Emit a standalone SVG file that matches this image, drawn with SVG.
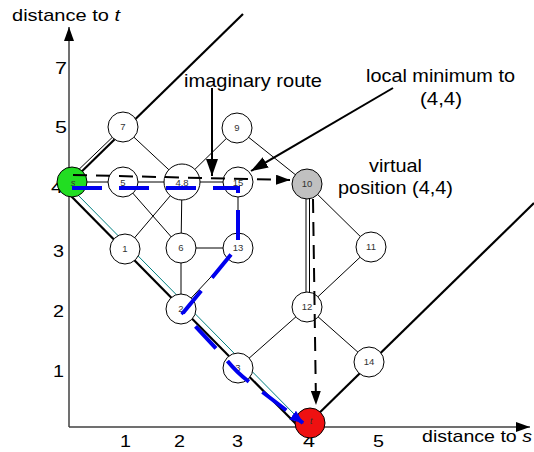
<svg xmlns="http://www.w3.org/2000/svg" width="534" height="452" viewBox="0 0 534 452">
<defs>
<style>
text{font-family:"Liberation Sans",Arial,sans-serif;}
.lbl{font-size:19px;fill:#000;}
.ax{font-size:17px;fill:#000;}
.tick{font-size:17px;fill:#000;}
.nl{font-size:9.5px;fill:#333;text-anchor:middle;}
.node{fill:#fff;stroke:#000;stroke-width:1;}
.edge{stroke:#000;stroke-width:1;fill:none;}
.thick{stroke:#000;stroke-width:2.2;fill:none;}
.axis{stroke:#404040;stroke-width:1.5;fill:none;}
</style>
<marker id="axArrow" markerUnits="userSpaceOnUse" markerWidth="14" markerHeight="10" viewBox="0 0 14 10" refX="14" refY="5" orient="auto"><path d="M0,0 L14,5 L0,10 z" fill="#000"/></marker>
<marker id="bigArrow" markerUnits="userSpaceOnUse" markerWidth="17" markerHeight="12" viewBox="0 0 17 12" refX="17" refY="6" orient="auto"><path d="M0,0 L17,6 L0,12 z" fill="#000"/></marker>
<marker id="dArrow" markerUnits="userSpaceOnUse" markerWidth="14" markerHeight="10" viewBox="0 0 14 10" refX="14" refY="5" orient="auto"><path d="M0,0 L14,5 L0,10 z" fill="#000"/></marker>
<marker id="bArrow" markerUnits="userSpaceOnUse" markerWidth="14" markerHeight="11" viewBox="0 0 14 11" refX="13" refY="5.5" orient="auto"><path d="M0,0 L14,5.5 L0,11 z" fill="#0000ee"/></marker>
</defs>

<g id="axes">
<line class="axis" x1="69" y1="427" x2="69" y2="27" marker-end="url(#axArrow)"/>
<line class="axis" x1="69" y1="427" x2="530" y2="427" marker-end="url(#axArrow)"/>
<text class="ax" x="12" y="21" textLength="108" lengthAdjust="spacingAndGlyphs">distance to <tspan font-style="italic">t</tspan></text>
<text class="ax" x="422" y="442" textLength="110" lengthAdjust="spacingAndGlyphs">distance to <tspan font-style="italic">s</tspan></text>
<g class="tick">
<text x="55" y="74" textLength="12" lengthAdjust="spacingAndGlyphs">7</text>
<text x="55" y="133" textLength="12" lengthAdjust="spacingAndGlyphs">5</text>
<text x="51" y="193" textLength="12" lengthAdjust="spacingAndGlyphs">4</text>
<text x="53" y="257" textLength="11" lengthAdjust="spacingAndGlyphs">3</text>
<text x="53" y="317" textLength="11" lengthAdjust="spacingAndGlyphs">2</text>
<text x="53" y="377" textLength="11" lengthAdjust="spacingAndGlyphs">1</text>
<text x="120" y="447" textLength="11" lengthAdjust="spacingAndGlyphs">1</text>
<text x="174" y="447" textLength="11" lengthAdjust="spacingAndGlyphs">2</text>
<text x="232" y="447" textLength="11" lengthAdjust="spacingAndGlyphs">3</text>
<text x="303" y="447" textLength="12" lengthAdjust="spacingAndGlyphs">4</text>
<text x="373" y="447" textLength="11" lengthAdjust="spacingAndGlyphs">5</text>
</g>
</g>

<g id="connectors">
<line class="thick" x1="73" y1="180" x2="243" y2="14"/>
<line class="edge" x1="71" y1="177" x2="121" y2="129"/>
<line class="thick" x1="70" y1="195" x2="297" y2="425"/>
<line stroke="#008080" stroke-width="1" x1="76" y1="193" x2="300" y2="420"/>
<line class="thick" x1="310" y1="422" x2="534" y2="203"/>
<line class="edge" x1="73" y1="182" x2="182" y2="182"/>
<line class="edge" x1="182" y1="182" x2="238" y2="182"/>
<line class="edge" x1="123" y1="127" x2="182" y2="182"/>
<line class="edge" x1="237" y1="128" x2="182" y2="182"/>
<line class="edge" x1="237" y1="128" x2="307" y2="184"/>
<line class="edge" x1="123" y1="182" x2="181" y2="248"/>
<line class="edge" x1="182" y1="182" x2="125" y2="249"/>
<line class="edge" x1="182" y1="182" x2="181" y2="248"/>
<line class="edge" x1="181" y1="248" x2="238" y2="248"/>
<line class="edge" x1="181" y1="248" x2="181" y2="309"/>
<line class="edge" x1="181" y1="309" x2="238" y2="248"/>
<line class="edge" x1="238" y1="182" x2="238" y2="248"/>
<line class="edge" x1="307" y1="184" x2="371" y2="247"/>
<line class="edge" x1="371" y1="247" x2="307" y2="307"/>
<line class="edge" x1="307" y1="307" x2="238" y2="368"/>
<line class="edge" x1="307" y1="307" x2="369" y2="362"/>
<line class="edge" x1="306" y1="190" x2="306" y2="300"/>
<line class="edge" x1="309.5" y1="190" x2="309.5" y2="300"/>
</g>

<g id="node-7"><circle class="node" cx="123" cy="127" r="15"/><text class="nl" x="123" y="130">7</text></g>
<g id="node-9"><circle class="node" cx="237" cy="128" r="15"/><text class="nl" x="237" y="131">9</text></g>
<g id="node-s"><circle cx="72" cy="182" r="15" fill="#22dd22" stroke="#000" stroke-width="1"/><text class="nl" x="73" y="186" font-style="italic">s</text></g>
<g id="node-5"><circle class="node" cx="123" cy="182" r="15"/><text class="nl" x="123" y="186">5</text></g>
<g id="node-4.8"><circle class="node" cx="182" cy="182" r="18"/><text class="nl" x="182" y="186">4.8</text></g>
<g id="node-15"><circle class="node" cx="238" cy="182" r="15"/><text class="nl" x="238" y="186">15</text></g>
<g id="node-10"><circle cx="307" cy="184" r="15" fill="#c0c0c0" stroke="#000" stroke-width="1"/><text class="nl" x="307" y="187">10</text></g>
<g id="node-1"><circle class="node" cx="125" cy="249" r="15"/><text class="nl" x="125" y="252">1</text></g>
<g id="node-6"><circle class="node" cx="181" cy="248" r="15"/><text class="nl" x="181" y="251">6</text></g>
<g id="node-13"><circle class="node" cx="238" cy="248" r="15"/><text class="nl" x="238" y="251">13</text></g>
<g id="node-11"><circle class="node" cx="371" cy="247" r="15"/><text class="nl" x="371" y="250">11</text></g>
<g id="node-2"><circle class="node" cx="181" cy="309" r="15"/><text class="nl" x="181" y="312">2</text></g>
<g id="node-12"><circle class="node" cx="307" cy="307" r="15"/><text class="nl" x="307" y="310">12</text></g>
<g id="node-3"><circle class="node" cx="238" cy="368" r="15"/><text class="nl" x="238" y="371">3</text></g>
<g id="node-14"><circle class="node" cx="369" cy="362" r="15"/><text class="nl" x="369" y="365">14</text></g>
<g id="node-t"><circle cx="310" cy="423" r="15" fill="#ee1111" stroke="#000" stroke-width="1"/><text class="nl" x="311" y="424" font-style="italic">t</text></g>

<g id="routes">
<line x1="73" y1="175" x2="290" y2="180" stroke="#000" stroke-width="2" stroke-dasharray="14 9" marker-end="url(#dArrow)"/>
<line x1="313" y1="199" x2="316" y2="405" stroke="#000" stroke-width="2" stroke-dasharray="14 9" marker-end="url(#dArrow)"/>
<path d="M72,188 H238 V246 L183,313 L225,358 Q236,372 248,381 L303,423" fill="none" stroke="#0000ee" stroke-width="4" stroke-dasharray="30 17" marker-end="url(#bArrow)"/>
</g>

<g id="callouts">
<text class="lbl" x="184" y="87" textLength="138" lengthAdjust="spacingAndGlyphs">imaginary route</text>
<line x1="212" y1="88" x2="212" y2="176" stroke="#000" stroke-width="2" marker-end="url(#bigArrow)"/>
<text class="lbl" x="366" y="82" textLength="149" lengthAdjust="spacingAndGlyphs">local minimum to</text>
<text class="lbl" x="420" y="105" textLength="42" lengthAdjust="spacingAndGlyphs">(4,4)</text>
<line x1="393" y1="88" x2="251" y2="171" stroke="#000" stroke-width="2" marker-end="url(#bigArrow)"/>
<text class="lbl" x="369" y="172" textLength="53" lengthAdjust="spacingAndGlyphs">virtual</text>
<text class="lbl" x="338" y="194" textLength="115" lengthAdjust="spacingAndGlyphs">position (4,4)</text>
</g>
</svg>
